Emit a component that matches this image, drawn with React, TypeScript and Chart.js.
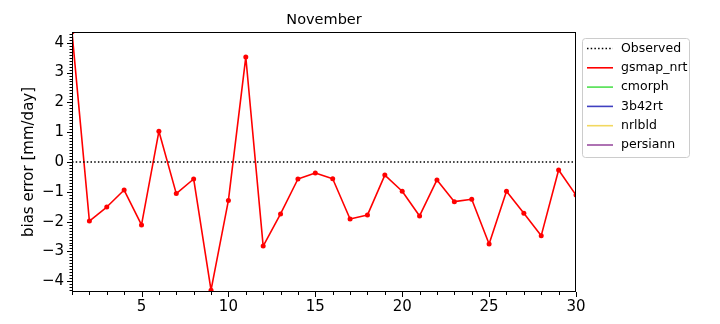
import React, { useEffect, useRef } from "react";
import { Chart, registerables } from "chart.js";

Chart.register(...registerables);

const days = [1,2,3,4,5,6,7,8,9,10,11,12,13,14,15,16,17,18,19,20,21,22,23,24,25,26,27,28,29,30];
const gsmapNrt = [4.36,-1.98,-1.51,-0.94,-2.11,1.03,-1.06,-0.57,-4.3,-1.29,3.52,-2.82,-1.74,-0.57,-0.37,-0.56,-1.91,-1.78,-0.44,-0.98,-1.81,-0.6,-1.33,-1.25,-2.75,-0.98,-1.72,-2.47,-0.27,-1.11];
const observed = days.map(() => 0);
const seriesNames = ["Observed","gsmap_nrt","cmorph","3b42rt","nrlbld","persiann"];
const seriesColors = ["#000000","#ff0000","#4ee04e","#4040c0","#f2d860","#9a4fa0"];
const xTicks = [5,10,15,20,25,30];
const yTicks = [-4,-3,-2,-1,0,1,2,3,4];
const yLimit = 4.36;
const titleText = "November";
const yTitle = "bias error [mm/day]";

const FONT = "'DejaVu Sans', sans-serif";

const decorPlugin = {
  id: "decor",
  afterDraw(chart: any) {
    const ctx = chart.ctx;
    const a = chart.chartArea;
    const xs = chart.scales.x;
    const ys = chart.scales.y;
    ctx.save();
    // frame
    ctx.strokeStyle = "#000";
    ctx.lineWidth = 1;
    ctx.strokeRect(a.left + 0.5, a.top + 0.5, a.right - a.left - 1, a.bottom - a.top - 1);
    // x ticks
    ctx.beginPath();
    for (const d of days) {
      const px = Math.round(xs.getPixelForValue(d)) + 0.5;
      const len = d % 5 === 0 ? 5 : 3;
      ctx.moveTo(px, a.bottom);
      ctx.lineTo(px, a.bottom + len);
    }
    // y ticks
    for (let i = -43; i <= 43; i++) {
      const v = i / 10;
      const py = Math.round(ys.getPixelForValue(v)) + 0.5;
      const len = i % 10 === 0 ? 5 : 2.5;
      ctx.moveTo(a.left, py);
      ctx.lineTo(a.left - len, py);
    }
    ctx.stroke();
    // title
    ctx.fillStyle = "#000";
    ctx.font = "14.5px " + FONT;
    ctx.textAlign = "center";
    ctx.textBaseline = "bottom";
    ctx.fillText(titleText, (a.left + a.right) / 2, a.top - 5);
    // legend
    const lx = a.right + 6, ly = a.top + 6, lw = 107, lh = 119;
    ctx.fillStyle = "rgba(255,255,255,0.8)";
    ctx.strokeStyle = "#cccccc";
    ctx.lineWidth = 1;
    ctx.beginPath();
    (ctx as any).roundRect(lx + 0.5, ly + 0.5, lw, lh, 3);
    ctx.fill();
    ctx.stroke();
    ctx.font = "12.5px " + FONT;
    ctx.textAlign = "left";
    ctx.textBaseline = "middle";
    chart.data.datasets.forEach((ds: any, i: number) => {
      const y = ly + 10.5 + i * 19.3;
      ctx.strokeStyle = ds.borderColor;
      ctx.lineWidth = 1.6;
      ctx.setLineDash(i === 0 ? [1.5, 2.2] : []);
      ctx.beginPath();
      ctx.moveTo(lx + 5, y);
      ctx.lineTo(lx + 31, y);
      ctx.stroke();
      ctx.setLineDash([]);
      ctx.fillStyle = "#000";
      ctx.fillText(ds.label, lx + 39, y);
    });
    ctx.restore();
  },
};

export default function App() {
  const ref = useRef<HTMLCanvasElement>(null);
  useEffect(() => {
    if (!ref.current) return;
    const datasets: any[] = seriesNames.map((name, i) => {
      let data: any[] = [];
      if (i === 0) data = days.map((d, j) => ({ x: d, y: observed[j] }));
      if (i === 1) data = days.map((d, j) => ({ x: d, y: gsmapNrt[j] }));
      return {
        label: name,
        data,
        borderColor: seriesColors[i],
        backgroundColor: seriesColors[i],
        borderWidth: 1.6,
        borderDash: i === 0 ? [1.5, 2.2] : [],
        borderJoinStyle: "round",
        pointRadius: i === 1 ? 2.5 : 0,
        pointBorderWidth: 0,
        tension: 0,
      };
    });
    const chart = new Chart(ref.current, {
      type: "line",
      data: { datasets },
      options: {
        responsive: false,
        animation: false,
        layout: { padding: { left: 0, right: 144, top: 32, bottom: 0 } },
        plugins: { legend: { display: false }, tooltip: { enabled: false }, title: { display: false } },
        scales: {
          x: {
            type: "linear",
            min: 1,
            max: 30,
            grid: { display: false, drawTicks: false },
            border: { display: false },
            afterBuildTicks: (s: any) => { s.ticks = xTicks.map((v) => ({ value: v })); },
            afterFit: (s: any) => { s.height = 32; },
            ticks: { color: "#000", font: { family: FONT, size: 15 }, padding: 6, maxRotation: 0, autoSkip: false },
          },
          y: {
            type: "linear",
            min: -yLimit,
            max: yLimit,
            grid: { display: false, drawTicks: false },
            border: { display: false },
            afterBuildTicks: (s: any) => { s.ticks = yTicks.map((v) => ({ value: v })); },
            afterFit: (s: any) => { s.width = 72; },
            ticks: {
              color: "#000",
              font: { family: FONT, size: 15 },
              padding: 8,
              autoSkip: false,
              callback: (v: any) => (v < 0 ? "\u2212" + Math.abs(v) : String(v)),
            },
            title: { display: true, text: yTitle, color: "#000", font: { family: FONT, size: 15 }, padding: { top: 20, bottom: 0 } },
          },
        },
      },
      plugins: [decorPlugin],
    });
    return () => chart.destroy();
  }, []);
  return (
    <div style={{ position: "absolute", left: 0, top: 0, width: 720, height: 324, background: "#fff" }}>
      <canvas ref={ref} width={720} height={324} />
    </div>
  );
}
